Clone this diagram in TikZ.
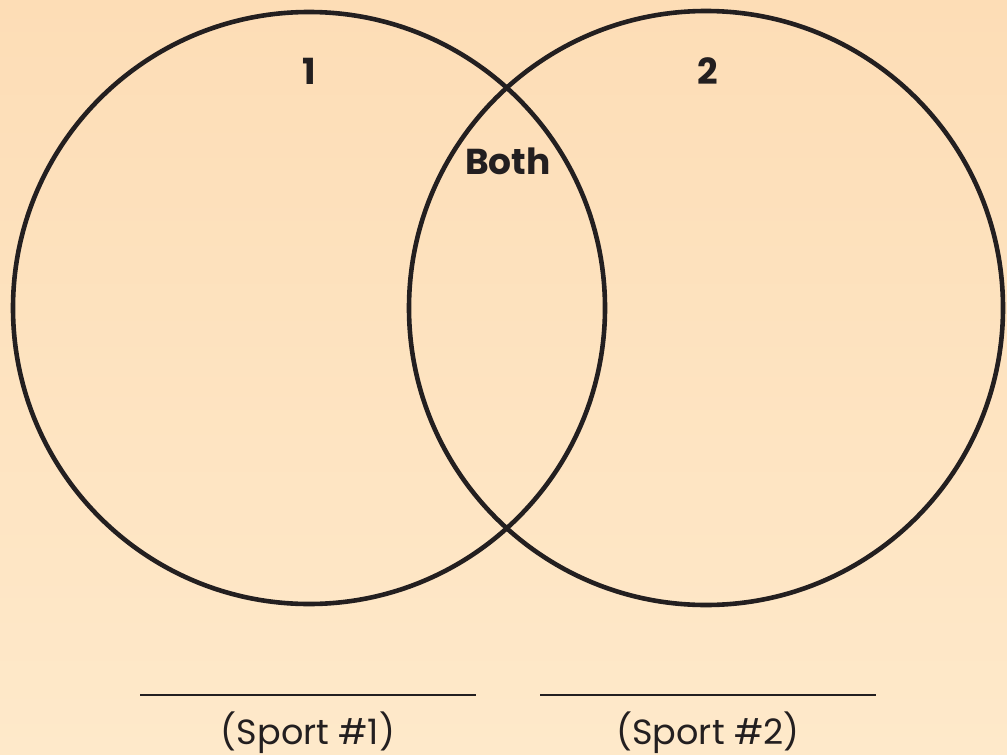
\documentclass[tikz,border=0pt]{standalone}
\usepackage{fontspec}
\setmainfont{Poppins}
\definecolor{bgtop}{HTML}{FDDDB6}
\definecolor{bgbot}{HTML}{FEE9CA}
\definecolor{ink}{HTML}{231F20}
\tikzset{
  venn/.style={draw=ink, line width=4.6pt},
  blank/.style={draw=ink, line width=2.8pt},
  lbl/.style={text=ink, font=\fontsize{36}{40}\selectfont\bfseries, inner sep=0pt},
  sportlbl/.style={text=ink, font=\fontsize{35}{40}\selectfont, inner sep=0pt}
}
\begin{document}
\begin{tikzpicture}[x=1pt,y=-1pt]
\shade[top color=bgtop, bottom color=bgbot] (0,0) rectangle (1007,755);
\useasboundingbox (0,0) rectangle (1007,755);
\node[venn, circle, minimum size=592pt, inner sep=0pt] (c1) at (309,308) {};
\node[venn, circle, minimum size=594pt, inner sep=0pt] (c2) at (706,308) {};
\node[lbl] (n1) at (309,71) {1};
\node[lbl] (n2) at (708,71) {2};
\node[lbl] (both) at (508,161) {Both};
\coordinate (a1) at (140,695);
\coordinate (a2) at (476,695);
\coordinate (b1) at (540,695);
\coordinate (b2) at (876,695);
\draw[blank] (a1) -- (a2);
\draw[blank] (b1) -- (b2);
\node[sportlbl] (s1) at (308,733) {(Sport \#1)};
\node[sportlbl] (s2) at (708,733) {(Sport \#2)};
\end{tikzpicture}
\end{document}
